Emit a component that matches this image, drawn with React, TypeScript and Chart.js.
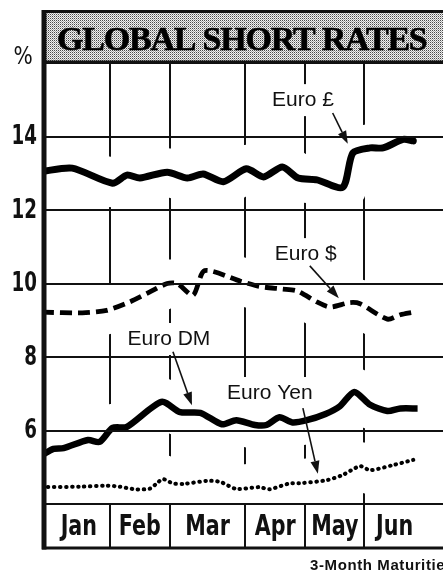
import React, { useEffect, useRef } from 'react';
import { Chart, registerables } from 'chart.js';

Chart.register(...registerables);

// ---- data (x in weeks from 1 January, y in percent) ----
const months = ['Jan', 'Feb', 'Mar', 'Apr', 'May', 'Jun'];
const monthBounds = [0, 4.7, 8.9, 14.1, 18.3, 22.4, 26.6];
const yTickValues = [6, 8, 10, 12, 14];

const poundWeeks = [0, 2.1, 4.9, 5.9, 6.8, 8.7, 10.1, 11.2, 12.6, 14.2, 15.4, 16.7, 17.8, 19.1, 20.9, 21.6, 22.8, 23.7, 25.1, 25.8];
const poundRates = [13.05, 13.14, 12.73, 12.95, 12.87, 13.03, 12.87, 12.98, 12.77, 13.12, 12.9, 13.17, 12.87, 12.82, 12.62, 13.55, 13.69, 13.69, 13.92, 13.88];

const dollarWeeks = [0, 2.8, 4.5, 6.1, 7.5, 8.7, 9.4, 10.5, 11.3, 13.8, 15.1, 16.7, 17.7, 19.1, 20.0, 21.4, 22.1, 24.0, 24.9, 25.8];
const dollarRates = [9.22, 9.2, 9.27, 9.5, 9.77, 10.0, 10.0, 9.68, 10.35, 10.06, 9.92, 9.85, 9.8, 9.5, 9.36, 9.48, 9.45, 9.03, 9.15, 9.22];

const dmWeeks = [0, 0.8, 1.5, 3.2, 4.0, 4.9, 5.9, 8.3, 9.6, 11.0, 12.5, 13.5, 14.8, 15.6, 16.5, 17.4, 18.4, 19.7, 20.7, 21.7, 22.8, 24.0, 24.9, 26.1];
const dmRates = [5.33, 5.5, 5.52, 5.74, 5.69, 6.07, 6.1, 6.78, 6.5, 6.48, 6.17, 6.28, 6.15, 6.15, 6.36, 6.22, 6.28, 6.45, 6.66, 7.05, 6.7, 6.53, 6.6, 6.6];

const yenWeeks = [0, 2.6, 4.5, 5.4, 6.5, 7.5, 8.0, 8.4, 9.1, 9.9, 11.5, 12.4, 13.5, 15.1, 15.8, 17.2, 18.1, 19.8, 20.9, 22.1, 22.8, 24.4, 25.8];
const yenRates = [4.46, 4.47, 4.5, 4.47, 4.4, 4.42, 4.57, 4.68, 4.56, 4.55, 4.63, 4.6, 4.41, 4.46, 4.4, 4.56, 4.57, 4.65, 4.79, 5.03, 4.92, 5.06, 5.2];

const seriesNames = ['Euro £', 'Euro $', 'Euro DM', 'Euro Yen'];

// annotation placement in data units (label centre, arrow start, arrow tip)
const annotations = [
  { text: 'Euro £', lx: 18.13, ly: 14.99, ax: 20.2, ay: 14.64, tx: 21.25, ty: 13.8 },
  { text: 'Euro $', lx: 18.33, ly: 10.8, ax: 18.61, ay: 10.48, tx: 20.63, ty: 9.6 },
  { text: 'Euro DM', lx: 8.82, ly: 8.49, ax: 9.1, ay: 8.14, tx: 10.42, ty: 6.69 },
  { text: 'Euro Yen', lx: 15.83, ly: 7.02, ax: 18.13, ay: 6.61, tx: 19.17, ty: 4.82 },
];

const TITLE = 'GLOBAL SHORT RATES';
const FOOTNOTE = '3-Month Maturities';

const condensed = '"Liberation Sans Narrow", "DejaVu Sans Condensed", "Arial Narrow", sans-serif';
const sans = '"Liberation Sans", Arial, Helvetica, sans-serif';
const INK = '#111';

const toPoints = (xs: number[], ys: number[]) => xs.map((x, i) => ({ x, y: ys[i] }));

function makePattern(): CanvasPattern | string {
  const c = document.createElement('canvas');
  c.width = 2;
  c.height = 2;
  const g = c.getContext('2d');
  if (!g) return '#c4c4c4';
  g.fillStyle = '#f2f2f2';
  g.fillRect(0, 0, 2, 2);
  g.fillStyle = '#4a4a4a';
  g.fillRect(0, 0, 1, 1);
  g.fillStyle = '#a8a8a8';
  g.fillRect(1, 1, 1, 1);
  const p = g.createPattern(c, 'repeat');
  return p || '#c4c4c4';
}

function drawSqueezed(ctx: CanvasRenderingContext2D, text: string, x: number, y: number, sx: number) {
  ctx.save();
  ctx.translate(x, y);
  ctx.scale(sx, 1);
  ctx.fillText(text, 0, 0);
  ctx.restore();
}

export default function App() {
  const ref = useRef<HTMLCanvasElement>(null);

  useEffect(() => {
    const canvas = ref.current;
    if (!canvas) return;
    const pattern = makePattern();

    const pressPlugin = {
      id: 'pressStyle',
      beforeDraw(chart: any) {
        const { ctx, chartArea } = chart;
        ctx.save();
        ctx.fillStyle = '#fff';
        ctx.fillRect(0, 0, chart.width, chart.height);
        ctx.fillStyle = pattern;
        ctx.fillRect(chartArea.left, 11, chart.width - chartArea.left, chartArea.top - 11);
        ctx.restore();
      },
      beforeDatasetsDraw(chart: any) {
        const { ctx, chartArea, scales } = chart;
        ctx.save();
        ctx.beginPath();
        ctx.rect(chartArea.left, chartArea.top, chartArea.right - chartArea.left, chartArea.bottom - chartArea.top);
        ctx.clip();
        ctx.strokeStyle = '#fff';
        ctx.lineWidth = 48;
        ctx.lineJoin = 'round';
        ctx.lineCap = 'round';
        chart.data.datasets.forEach((_: any, i: number) => {
          const meta = chart.getDatasetMeta(i);
          ctx.beginPath();
          meta.data.forEach((el: any, j: number) => {
            if (j === 0) ctx.moveTo(el.x, el.y);
            else ctx.lineTo(el.x, el.y);
          });
          ctx.stroke();
        });
        // knock out behind the labels
        ctx.font = `21px ${sans}`;
        ctx.fillStyle = '#fff';
        annotations.forEach((a) => {
          const cx = scales.x.getPixelForValue(a.lx);
          const cy = scales.y.getPixelForValue(a.ly);
          const w = ctx.measureText(a.text).width;
          ctx.fillRect(cx - w / 2 - 4, cy - 16, w + 8, 32);
        });
        ctx.restore();
      },
      afterDraw(chart: any) {
        const { ctx, chartArea, scales } = chart;
        const left = chartArea.left;
        const right = chart.width;
        ctx.save();

        // title box borders
        ctx.strokeStyle = INK;
        ctx.lineWidth = 3;
        ctx.beginPath();
        ctx.moveTo(left, 11.5);
        ctx.lineTo(right, 11.5);
        ctx.moveTo(left, chartArea.top - 1);
        ctx.lineTo(right, chartArea.top - 1);
        ctx.stroke();

        // title
        ctx.fillStyle = '#000';
        ctx.font = `bold 34px "Liberation Serif", "Times New Roman", serif`;
        ctx.textAlign = 'left';
        ctx.textBaseline = 'alphabetic';
        try { (ctx as any).letterSpacing = '-1.2px'; } catch (e) {}
        ctx.fillText(TITLE, left + 15, 50);
        ctx.lineWidth = 0.6;
        ctx.strokeStyle = '#000';
        ctx.strokeText(TITLE, left + 15, 50);
        try { (ctx as any).letterSpacing = '0px'; } catch (e) {}

        // strip bottom line
        const stripBottom = chartArea.bottom + 44;
        ctx.strokeStyle = INK;
        ctx.lineWidth = 3;
        ctx.beginPath();
        ctx.moveTo(left, stripBottom);
        ctx.lineTo(right, stripBottom);
        ctx.stroke();

        // thick left axis
        ctx.lineWidth = 5;
        ctx.beginPath();
        ctx.moveTo(left + 2, 10);
        ctx.lineTo(left + 2, stripBottom + 1.5);
        ctx.stroke();

        // y tick labels (condensed), placed by the y scale
        ctx.fillStyle = INK;
        ctx.font = `bold 26px ${condensed}`;
        ctx.textAlign = 'right';
        ctx.textBaseline = 'middle';
        yTickValues.forEach((v) => {
          drawSqueezed(ctx, String(v), left - 5, scales.y.getPixelForValue(v) + 1, 0.78);
        });

        // percent sign
        ctx.textAlign = 'center';
        ctx.font = `25px ${condensed}`;
        drawSqueezed(ctx, '%', 23, scales.y.getPixelForValue(16) - 6, 0.9);

        // month labels
        ctx.font = `bold 28px ${condensed}`;
        months.forEach((m, i) => {
          const x0 = scales.x.getPixelForValue(monthBounds[i]);
          const x1 = scales.x.getPixelForValue(monthBounds[i + 1]);
          drawSqueezed(ctx, m, (x0 + x1) / 2 + (i === 0 ? 3 : 0), chartArea.bottom + 24, 0.82);
        });

        // annotations
        ctx.font = `21px ${sans}`;
        ctx.fillStyle = INK;
        ctx.strokeStyle = INK;
        annotations.forEach((a) => {
          const cx = scales.x.getPixelForValue(a.lx);
          const cy = scales.y.getPixelForValue(a.ly);
          ctx.fillText(a.text, cx, cy);
          const x1 = scales.x.getPixelForValue(a.ax);
          const y1 = scales.y.getPixelForValue(a.ay);
          const x2 = scales.x.getPixelForValue(a.tx);
          const y2 = scales.y.getPixelForValue(a.ty);
          const ang = Math.atan2(y2 - y1, x2 - x1);
          const hl = 13;
          const hw = 4.5;
          const bx = x2 - hl * Math.cos(ang);
          const by = y2 - hl * Math.sin(ang);
          ctx.lineWidth = 1.6;
          ctx.beginPath();
          ctx.moveTo(x1, y1);
          ctx.lineTo(bx, by);
          ctx.stroke();
          ctx.beginPath();
          ctx.moveTo(x2, y2);
          ctx.lineTo(bx + hw * Math.sin(ang), by - hw * Math.cos(ang));
          ctx.lineTo(bx - hw * Math.sin(ang), by + hw * Math.cos(ang));
          ctx.closePath();
          ctx.fill();
        });

        // footnote
        ctx.font = `bold 15px ${sans}`;
        ctx.textAlign = 'left';
        ctx.textBaseline = 'alphabetic';
        try { (ctx as any).letterSpacing = '0.6px'; } catch (e) {}
        ctx.fillText(FOOTNOTE, 310, 570);
        try { (ctx as any).letterSpacing = '0px'; } catch (e) {}

        ctx.restore();
      },
    };

    const chart = new Chart(canvas, {
      type: 'line',
      data: {
        datasets: [
          {
            label: seriesNames[0],
            data: toPoints(poundWeeks, poundRates),
            borderColor: '#000',
            borderWidth: 7,
            borderCapStyle: 'round',
            borderJoinStyle: 'round',
            tension: 0.25,
            pointRadius: 0,
          },
          {
            label: seriesNames[1],
            data: toPoints(dollarWeeks, dollarRates),
            borderColor: '#000',
            borderWidth: 4.8,
            borderDash: [12, 6],
            tension: 0.25,
            pointRadius: 0,
          },
          {
            label: seriesNames[2],
            data: toPoints(dmWeeks, dmRates),
            borderColor: '#000',
            borderWidth: 6.5,
            borderJoinStyle: 'round',
            tension: 0.25,
            pointRadius: 0,
          },
          {
            label: seriesNames[3],
            data: toPoints(yenWeeks, yenRates),
            borderColor: '#000',
            borderWidth: 4,
            borderDash: [0.5, 5.5],
            borderCapStyle: 'round',
            tension: 0.25,
            pointRadius: 0,
          },
        ] as any,
      },
      options: {
        responsive: false,
        animation: false,
        devicePixelRatio: 1,
        layout: { padding: { top: 63, left: 0, right: 5, bottom: 0 } },
        plugins: { legend: { display: false }, title: { display: false }, tooltip: { enabled: false } },
        scales: {
          x: {
            type: 'linear',
            min: 0,
            max: 28.7,
            afterBuildTicks: (axis: any) => {
              axis.ticks = monthBounds.slice(1, 6).map((v) => ({ value: v }));
            },
            afterFit: (axis: any) => {
              axis.height = 68;
            },
            ticks: { display: false },
            border: { display: false },
            grid: { color: INK, lineWidth: 2, drawTicks: true, tickLength: 44, tickColor: INK, tickWidth: 2 },
          },
          y: {
            type: 'linear',
            min: 4,
            max: 16,
            afterBuildTicks: (axis: any) => {
              axis.ticks = [4, ...yTickValues, 16].map((v) => ({ value: v }));
            },
            afterFit: (axis: any) => {
              axis.width = 42;
            },
            ticks: { display: false },
            border: { display: false },
            grid: { color: INK, lineWidth: 2, drawTicks: false, z: 1 },
          },
        },
      } as any,
      plugins: [pressPlugin],
    });

    return () => chart.destroy();
  }, []);

  return (
    <div style={{ position: 'fixed', left: 0, top: 0, width: 443, height: 572, overflow: 'hidden', background: '#fff' }}>
      <canvas ref={ref} width={460} height={572} style={{ display: 'block', width: 460, height: 572 }} />
    </div>
  );
}
